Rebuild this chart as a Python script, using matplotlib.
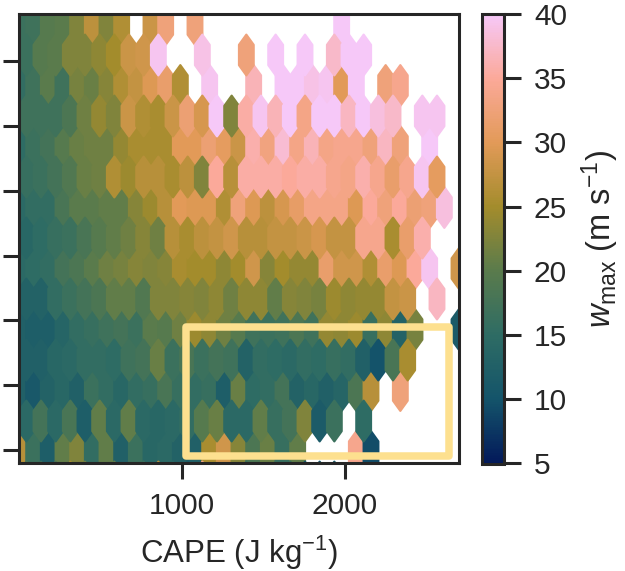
import numpy as np
import matplotlib
matplotlib.use("Agg")
import matplotlib.pyplot as plt
from matplotlib.colors import LinearSegmentedColormap
from matplotlib.patches import Rectangle

plt.rcParams['font.family'] = ['Liberation Sans', 'DejaVu Sans']
plt.rcParams['mathtext.fontset'] = 'custom'
plt.rcParams['mathtext.rm'] = 'Liberation Sans'
plt.rcParams['mathtext.it'] = 'Liberation Sans:italic'
plt.rcParams['mathtext.default'] = 'regular'

N = None
# wmax per hexagon, one list per hexagon row from top to bottom
row00 = [16.5,17,19.5,20,22.5,27,22.5,26,N,28,32.5,N,32.5,N,N,N,N,N,N,N,N,N,40,N,N,N,N,N,N,N,N]
row01 = [16.5,19.5,20,22.5,22.5,23.5,25,28,28.5,39.5,N,N,39,N,N,32.5,N,40,N,40,N,37.5,40,40,N,N,N,N,N,N]
row02 = [15.5,17,20,17,22,21,23,26,27.5,29.5,31.5,26,N,39.5,N,N,36.5,N,40,40,39,39.5,30,40,N,32.5,34,N,N,N,N]
row03 = [17,17,17,18.5,21.5,24,22.5,28,26,25.5,28,32,29,40,22.5,35.5,39.5,36.5,40,33.5,40,40,37,40,38.5,37.5,N,39.5,39.5,N]
row04 = [15,16.5,17.5,19.5,21,21.5,21.5,24,25.5,25.5,25.5,30,30,32,30.5,28,36,33,38,33.5,36.5,33.5,34,34,32.5,37,32.5,N,40,N,N]
row05 = [16,16.5,17.5,19,21,21.5,26,24.5,26.5,26.5,25.5,27,22.5,35,26.5,35.5,35.5,35.5,35,35.5,35.5,34,33.5,36,34,31.5,34,39.5,30.5,N]
row06 = [14.5,15.5,15.5,18,20,20,20.5,20.5,23,24.5,26.5,30,29.5,29.5,26,32.5,29.5,27,29,31,33.5,33.5,33.5,29.5,35,32.5,35,32,32.5,38.5,N]
row07 = [14,15,16,16.5,18,19.5,20.5,21.5,23,21.5,26.5,25.5,27,27.5,28.5,26.5,26.5,27.5,27.5,28,29,27.5,27.5,34,34,25.5,31.5,36,N,N]
row08 = [14.5,15,15.5,17.5,18.5,20,21.5,22,23,22.5,23,25.5,25,25,23.5,25,28.5,23,25,24,24,31.5,28.5,28.5,26,31.5,29.5,35,39.5,N,28.5]
row09 = [13,13,15.5,16.5,17.5,18.5,20.5,20.5,19,22.5,22.5,23,22.5,23.5,21.5,23.5,23.5,20.5,23,22.5,22,24.5,23.5,24,24,27.5,28,N,37,N]
row10 = [12.5,12,12,13.5,15.5,16,17,17.5,16.5,20,19.5,21.5,24.5,23.5,21.5,19.5,17,16.5,17,18.5,17,24,23.5,24.5,16,23.5,13,22,N,N,11.5]
row11 = [12.5,12.5,14,14.5,15.5,15.5,15,17,17.5,21,16.5,18,16.5,17.5,17,13,15.5,15,14.5,15.5,15,16,15.5,12.5,10,18,25.5,N,N,N]
row12 = [12.5,11,13,14,12.5,16.5,15.5,14,15.5,16,18,16,15.5,16,12,21,15,15.5,17.5,13,14,12.5,13.5,18.5,26.5,N,32.5,N,N,N,N]
row13 = [14.5,17.5,14.5,18,12,20.5,14.5,20.5,14.5,14,14.5,15.5,19.5,21,14.5,14.5,20.5,16,17.5,22.5,11.5,16.5,N,15,N,N,N,N,N,N]
row14 = [26.5,16.5,12,20.5,22.5,15.5,20.5,12.5,16.5,14,14.5,13,12.5,25.5,28.5,23,18.5,21,16,20.5,N,N,N,34,9.5,N,N,N,N,N,N]
row15 = [18.5,16.5,18.5,25.5,21.5,N,20.5,N,16.5,26.5,14.5,11.5,34,N,N,16.5,N,16.5,16.5,10.5,10.5,11.5,N,N,N,N,N,N,N,N]
rows = [row00,row01,row02,row03,row04,row05,row06,row07,row08,row09,row10,row11,row12,row13,row14,row15]

cape_ticks = [1000,2000]
cbar_ticks = [5,10,15,20,25,30,35,40]
cmap_colors = ['#03195a','#14546a','#2e6c64','#5a7b4c','#a38c2c','#e29a58','#fba999','#f6c8f8']

W, H = 625, 571
xmax = 2700
nx = 30
ny = 8
ytop = 6.563
ybot = -0.964
dx = xmax/nx
dy = (ytop-ybot)/ny/2

cape = []
height = []
wmax = []
for k in range(len(rows)):
    for i in range(len(rows[k])):
        if rows[k][i] is None:
            continue
        if k%2==0:
            cape.append(i*dx)
        else:
            cape.append((i+0.5)*dx)
        height.append(ytop-k*dy)
        wmax.append(rows[k][i])

batlow = LinearSegmentedColormap.from_list('batlow_like',cmap_colors)
dark = '#262626'
fs = 21.5
lw = 2.2

fig = plt.figure(figsize=(W/100,H/100),dpi=100)
ax = fig.add_axes([19/W,(H-463)/H,440/W,449/H])
hb = ax.hexbin(cape,height,C=wmax,gridsize=(nx,ny),extent=(0,xmax,ybot,ytop),
               cmap=batlow,vmin=5,vmax=40,reduce_C_function=np.mean,linewidths=1.6)
ax.set_xlim(0,xmax)
ax.set_ylim(-0.2,6.725)
ax.set_xticks(cape_ticks)
ax.set_yticks(range(7))
ax.set_yticklabels([])
ax.tick_params(axis='both',length=11.8,width=lw,color=dark,labelcolor=dark,labelsize=fs)
ax.tick_params(axis='x',pad=9)
ax.set_xlabel('CAPE (J kg$^{-1}$)',fontsize=22.5,color=dark,labelpad=10)
for s in ax.spines.values():
    s.set_linewidth(lw)
    s.set_color(dark)

box = Rectangle((1022,-0.093),1616,1.99,fill=False,edgecolor='#fde08f',linewidth=5.4,joinstyle='round',zorder=5)
ax.add_patch(box)

cax = fig.add_axes([481.5/W,(H-463.5)/H,23/W,449.5/H])
cb = fig.colorbar(hb,cax=cax)
cb.set_ticks(cbar_ticks)
cax.tick_params(length=12.2,width=lw,color=dark,labelcolor=dark,labelsize=fs,pad=9)
cb.outline.set_linewidth(lw)
cb.outline.set_edgecolor(dark)
fig.text(600/W,1-239/H,r'$\mathit{w}_{max}$ (m s$^{-1}$)',rotation=90,ha='center',va='center',fontsize=23.5,color=dark)

fig.savefig('out.png',dpi=100)
